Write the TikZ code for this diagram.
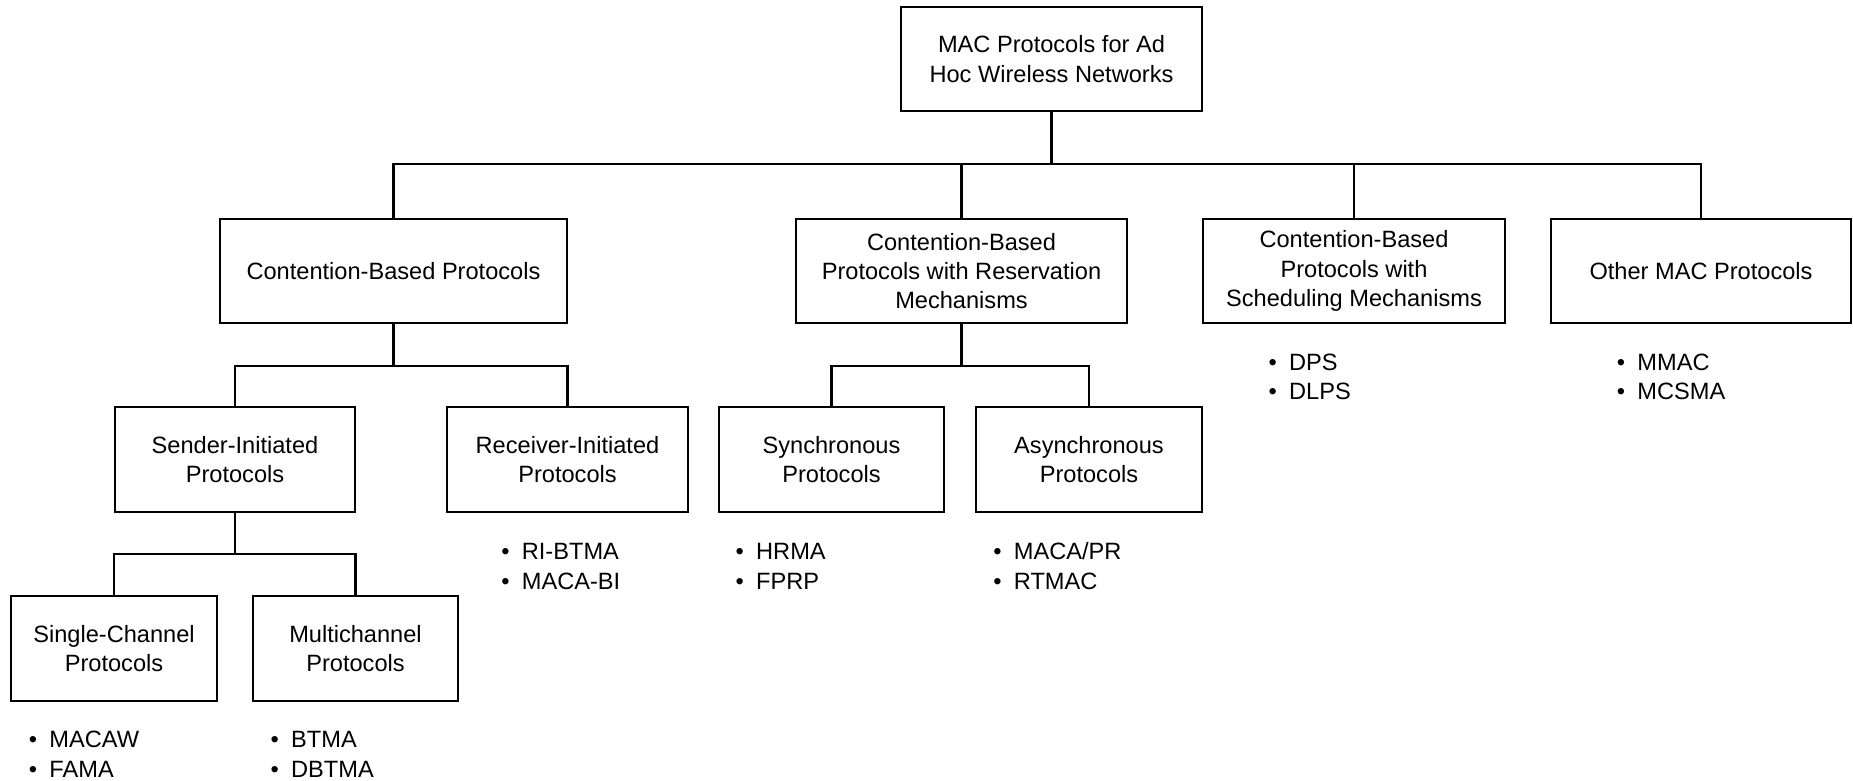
\documentclass[tikz,border=0pt]{standalone}
\usepackage{fontspec}
\setmainfont{Liberation Sans}
\newcommand{\blt}{\makebox[20.6pt][l]{\textbullet}}
\begin{document}
\begin{tikzpicture}[x=1pt,y=-1pt,
  txt/.style={font=\fontsize{23.6}{29.2}\selectfont},
  box/.style={txt,draw=black,line width=2.6pt,inner sep=0pt,align=center},
  list/.style={txt,inner sep=0pt,anchor=base west,align=left},
  link/.style={draw=black,line width=2.6pt,line join=miter}]
\useasboundingbox (0,0) rectangle (1853,781);

% bus levels
\coordinate (bus1) at (0,164);
\coordinate (bus2) at (0,366);
\coordinate (bus3) at (0,554);

% root
\node[box,minimum width=301pt,minimum height=104pt] (root) at (1051.5,59)
  {MAC Protocols for Ad\\Hoc Wireless Networks};

% first level
\node[box,minimum width=347pt,minimum height=104pt] (cb) at (393.5,271)
  {Contention-Based Protocols};
\node[box,minimum width=331pt,minimum height=104pt] (cbr) at (961.5,271)
  {Contention-Based\\Protocols with Reservation\\Mechanisms};
\node[box,minimum width=302pt,minimum height=104pt] (cbs) at (1354,271)
  {Contention-Based\\Protocols with\\Scheduling Mechanisms};
\node[box,minimum width=300pt,minimum height=104pt] (other) at (1701,271)
  {Other MAC Protocols};

% second level
\node[box,minimum width=240pt,minimum height=105pt] (sender) at (235,459.5)
  {Sender-Initiated\\Protocols};
\node[box,minimum width=241pt,minimum height=105pt] (receiver) at (567.5,459.5)
  {Receiver-Initiated\\Protocols};
\node[box,minimum width=225pt,minimum height=105pt] (sync) at (831.5,459.5)
  {Synchronous\\Protocols};
\node[box,minimum width=226pt,minimum height=105pt] (async) at (1089,459.5)
  {Asynchronous\\Protocols};

% third level
\node[box,minimum width=206pt,minimum height=105pt] (single) at (114,648.5)
  {Single-Channel\\Protocols};
\node[box,minimum width=205pt,minimum height=105pt] (multi) at (355.5,648.5)
  {Multichannel\\Protocols};

% connectors
\draw[link] (root.south) -- (root.south |- bus1);
\draw[link] (cb.north) -- (cb.north |- bus1) -- (other.north |- bus1) -- (other.north);
\draw[link] (cbr.north) -- (cbr.north |- bus1);
\draw[link] (cbs.north) -- (cbs.north |- bus1);

\draw[link] (cb.south) -- (cb.south |- bus2);
\draw[link] (sender.north) -- (sender.north |- bus2) -- (receiver.north |- bus2) -- (receiver.north);
\draw[link] (cbr.south) -- (cbr.south |- bus2);
\draw[link] (sync.north) -- (sync.north |- bus2) -- (async.north |- bus2) -- (async.north);

\draw[link] (sender.south) -- (sender.south |- bus3);
\draw[link] (single.north) -- (single.north |- bus3) -- (multi.north |- bus3) -- (multi.north);

% protocol lists (anchored at the baseline of their second line)
\node[list] (l-cbs) at (1268.4,399.5) {\blt DPS\\\blt DLPS};
\node[list] (l-other) at (1616.7,399.5) {\blt MMAC\\\blt MCSMA};
\node[list] (l-receiver) at (501.1,589) {\blt RI-BTMA\\\blt MACA-BI};
\node[list] (l-sync) at (735.4,589) {\blt HRMA\\\blt FPRP};
\node[list] (l-async) at (993.1,589) {\blt MACA/PR\\\blt RTMAC};
\node[list] (l-single) at (28.7,777) {\blt MACAW\\\blt FAMA};
\node[list] (l-multi) at (270.4,777) {\blt BTMA\\\blt DBTMA};
\end{tikzpicture}
\end{document}
